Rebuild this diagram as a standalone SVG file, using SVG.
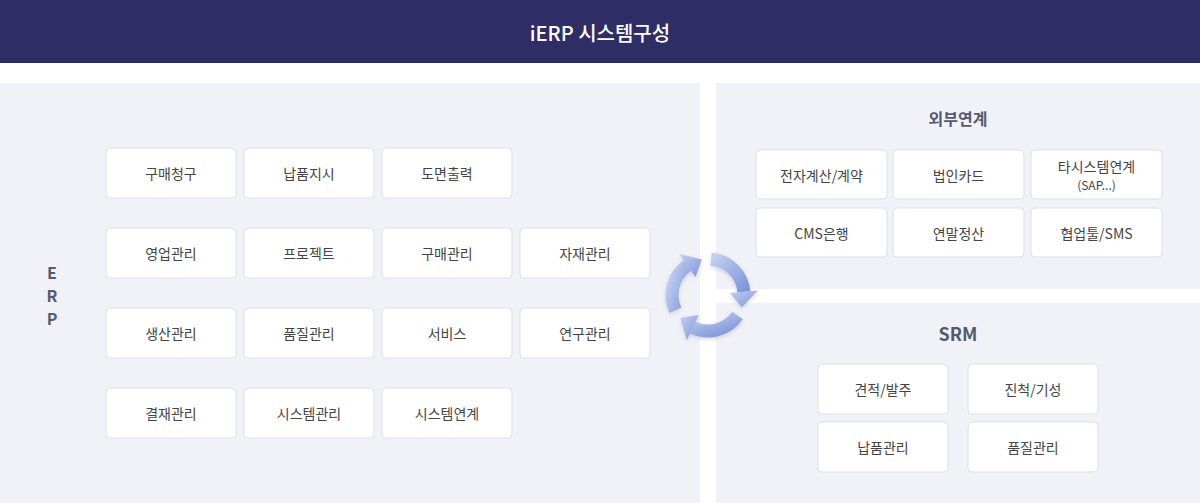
<svg xmlns="http://www.w3.org/2000/svg" width="1200" height="503" viewBox="0 0 1200 503">
<defs>
<style>
.bx{fill:#fff;stroke:#dcdfea;stroke-width:1}
.t{font-family:"Noto Sans CJK KR","Noto Sans",sans-serif;font-size:14px;fill:#444;text-anchor:middle;dominant-baseline:central}
.h{font-family:"Noto Sans CJK KR","Noto Sans",sans-serif;font-weight:bold;fill:#555a6e;text-anchor:middle;dominant-baseline:central}
.arc{fill:none;stroke-width:13}
</style>
<linearGradient id="g" x1="0" y1="0" x2="1" y2="1"><stop offset="0" stop-color="#c3d0f2"/><stop offset="1" stop-color="#7e95d8"/></linearGradient>
<filter id="sh" x="-20%" y="-20%" width="140%" height="140%"><feDropShadow dx="0" dy="2" stdDeviation="2" flood-color="#6070b0" flood-opacity="0.25"/></filter>
</defs>
<rect width="1200" height="503" fill="#fff"/>
<rect width="1200" height="63" fill="#2f2d66"/>
<text x="600" y="32" class="t" style="fill:#fff;font-size:20px;font-weight:500">iERP 시스템구성</text>
<rect x="0" y="83" width="700" height="420" fill="#f1f2f8"/>
<rect x="716" y="83" width="484" height="206" fill="#f1f2f8"/>
<rect x="716" y="303" width="484" height="200" fill="#f1f2f8"/>
<g id="erp-label"><text x="52" y="272" class="h" font-size="16">E</text><text x="52" y="295" class="h" font-size="16">R</text><text x="52" y="318" class="h" font-size="16">P</text></g>
<g id="n1"><rect class="bx" x="106" y="148" width="130" height="50" rx="4"/><text class="t" x="171" y="173">구매청구</text></g>
<g id="n2"><rect class="bx" x="244" y="148" width="130" height="50" rx="4"/><text class="t" x="309" y="173">납품지시</text></g>
<g id="n3"><rect class="bx" x="382" y="148" width="130" height="50" rx="4"/><text class="t" x="447" y="173">도면출력</text></g>
<g id="n4"><rect class="bx" x="106" y="228" width="130" height="50" rx="4"/><text class="t" x="171" y="253">영업관리</text></g>
<g id="n5"><rect class="bx" x="244" y="228" width="130" height="50" rx="4"/><text class="t" x="309" y="253">프로젝트</text></g>
<g id="n6"><rect class="bx" x="382" y="228" width="130" height="50" rx="4"/><text class="t" x="447" y="253">구매관리</text></g>
<g id="n7"><rect class="bx" x="520" y="228" width="130" height="50" rx="4"/><text class="t" x="585" y="253">자재관리</text></g>
<g id="n8"><rect class="bx" x="106" y="308" width="130" height="50" rx="4"/><text class="t" x="171" y="333">생산관리</text></g>
<g id="n9"><rect class="bx" x="244" y="308" width="130" height="50" rx="4"/><text class="t" x="309" y="333">품질관리</text></g>
<g id="n10"><rect class="bx" x="382" y="308" width="130" height="50" rx="4"/><text class="t" x="447" y="333">서비스</text></g>
<g id="n11"><rect class="bx" x="520" y="308" width="130" height="50" rx="4"/><text class="t" x="585" y="333">연구관리</text></g>
<g id="n12"><rect class="bx" x="106" y="388" width="130" height="50" rx="4"/><text class="t" x="171" y="413">결재관리</text></g>
<g id="n13"><rect class="bx" x="244" y="388" width="130" height="50" rx="4"/><text class="t" x="309" y="413">시스템관리</text></g>
<g id="n14"><rect class="bx" x="382" y="388" width="130" height="50" rx="4"/><text class="t" x="447" y="413">시스템연계</text></g>
<text x="958" y="118" class="h" font-size="16">외부연계</text>
<g id="e1"><rect class="bx" x="756" y="150" width="131" height="49" rx="4"/><text class="t" x="821.5" y="174.5">전자계산/계약</text></g>
<g id="e2"><rect class="bx" x="893" y="150" width="131" height="49" rx="4"/><text class="t" x="958.5" y="174.5">법인카드</text></g>
<g id="e3"><rect class="bx" x="1031" y="150" width="131" height="49" rx="4"/><text class="t" x="1096.5" y="166">타시스템연계</text><text class="t" x="1096.5" y="184" style="font-size:12px">(SAP...)</text></g>
<g id="e4"><rect class="bx" x="756" y="208" width="131" height="49" rx="4"/><text class="t" x="821.5" y="232.5">CMS은행</text></g>
<g id="e5"><rect class="bx" x="893" y="208" width="131" height="49" rx="4"/><text class="t" x="958.5" y="232.5">연말정산</text></g>
<g id="e6"><rect class="bx" x="1031" y="208" width="131" height="49" rx="4"/><text class="t" x="1096.5" y="232.5">협업툴/SMS</text></g>
<text x="958" y="333" class="h" font-size="18">SRM</text>
<g id="s1"><rect class="bx" x="818" y="364" width="130" height="50" rx="4"/><text class="t" x="883" y="389">견적/발주</text></g>
<g id="s2"><rect class="bx" x="968" y="364" width="130" height="50" rx="4"/><text class="t" x="1033" y="389">진척/기성</text></g>
<g id="s3"><rect class="bx" x="818" y="422" width="130" height="50" rx="4"/><text class="t" x="883" y="447">납품관리</text></g>
<g id="s4"><rect class="bx" x="968" y="422" width="130" height="50" rx="4"/><text class="t" x="1033" y="447">품질관리</text></g>
<g id="connectors" filter="url(#sh)">
<path class="arc" stroke="url(#g)" d="M711.1,259.1 A36,36 0 0 1 743.9,291.9"/>
<polygon fill="url(#g)" points="729.9,293.1 757.8,290.6 741.8,307.3"/>
<path class="arc" stroke="url(#g)" d="M737.5,315.6 A36,36 0 0 1 692.8,327.6"/>
<polygon fill="url(#g)" points="698.7,314.9 686.9,340.3 680.4,318.1"/>
<path class="arc" stroke="url(#g)" d="M675.4,310.2 A36,36 0 0 1 687.4,265.5"/>
<polygon fill="url(#g)" points="695.4,277.0 679.3,254.0 701.8,259.5"/>
</g>
</svg>
